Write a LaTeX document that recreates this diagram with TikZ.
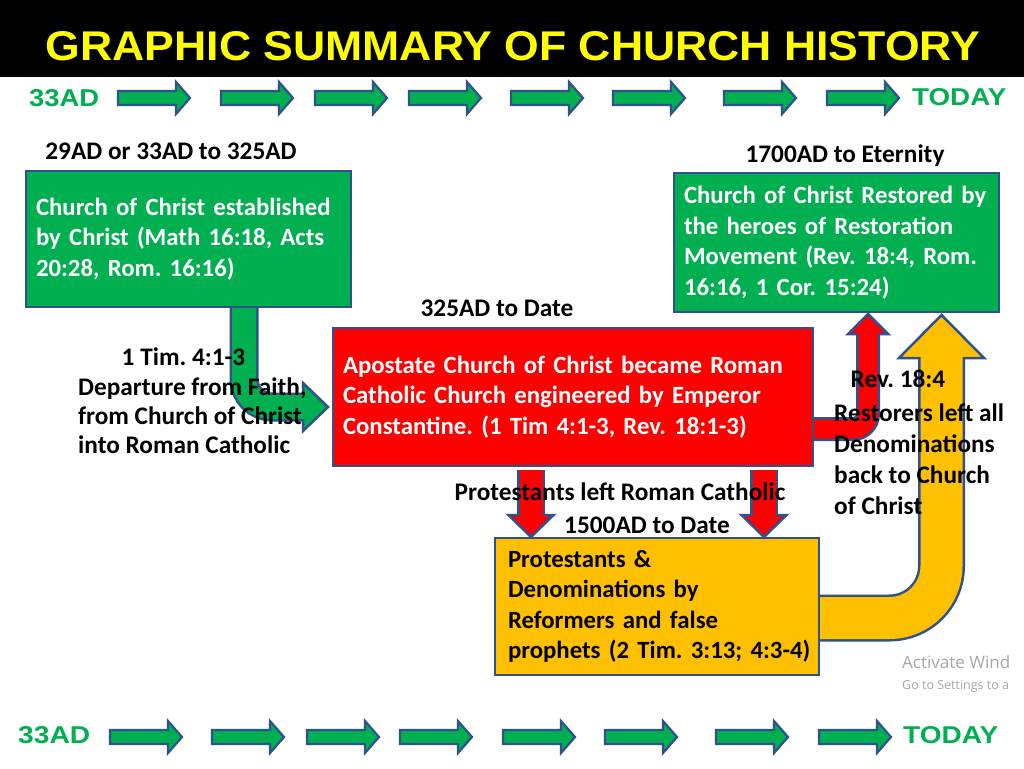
\documentclass[tikz,border=0pt]{standalone}
\usepackage{fontspec}
\setmainfont{Carlito}
\newfontfamily\titlefont{Liberation Sans}
\newfontfamily\wmfont{Open Sans}
\usetikzlibrary{calc}
\definecolor{cgreen}{HTML}{00B050}
\definecolor{cred}{HTML}{FF0000}
\definecolor{corange}{HTML}{FFC000}
\definecolor{cblue}{HTML}{2F528F}
\definecolor{cyellow}{HTML}{FFFF00}
\definecolor{wmgray}{HTML}{A6A6A6}
\frenchspacing
\hfuzz=50pt
\newcommand\tlarrow[2]{\draw[tlarr] (#1,#2-7) -- ++(58,0) -- ++(0,-9) -- ++(14,16) -- ++(-14,16) -- ++(0,-9) -- ++(-58,0) -- cycle;}
\begin{document}
\begin{tikzpicture}[x=1pt,y=-1pt,
  box/.style={draw=cblue, line width=2.5pt, align=left, inner xsep=10pt, inner ysep=0pt,
    font=\bfseries\fontsize{24.8}{30.5}\selectfont},
  lbl/.style={font=\bfseries\fontsize{25.3}{30.5}\selectfont, inner sep=0pt, text=black},
  tlarr/.style={fill=cgreen, draw=cblue, line width=2.2pt, line join=miter},
  tltext/.style={inner sep=0pt, text=cgreen, font=\titlefont\bfseries},
  head/.style={draw=cblue, line width=2.5pt, line join=miter},
]
\useasboundingbox (0,0) rectangle (1024,768);
\fill[white] (0,0) rectangle (1024,768);
% title bar
\fill[black] (0,0) rectangle (1024,77);
\node[inner sep=0pt, text=cyellow, font=\titlefont\bfseries] (title) at (513,46)
  {\resizebox{934pt}{29pt}{GRAPHIC SUMMARY OF CHURCH HISTORY}};

% timelines
\node[tltext, anchor=west] (t33) at (29,98) {\resizebox{70pt}{17pt}{33AD}};
\node[tltext, anchor=west] (ttoday) at (912,97) {\resizebox{94pt}{17pt}{TODAY}};
\foreach \x in {118,221,315,409,511,613,724,827} {\tlarrow{\x}{98}}
\node[tltext, anchor=west] (b33) at (18,735) {\resizebox{72pt}{17pt}{33AD}};
\node[tltext, anchor=west] (btoday) at (903,735) {\resizebox{95pt}{17pt}{TODAY}};
\foreach \x in {110,212,307,400,503,605,716,819} {\tlarrow{\x}{737}}

% box positions (coordinates used by the arrows)
\coordinate (Apos) at (188.5,239);
\coordinate (Bpos) at (836.5,242.5);
\coordinate (Cpos) at (573,397);
\coordinate (Dpos) at (657,606.5);

% green bent arrow A -> C
\draw[cblue, line width=29pt, rounded corners=28pt] (244,300) -- (244,407) -- (305,407);
\draw[head, fill=cgreen] (303,383) -- (328,407) -- (303,431) -- cycle;
\draw[cgreen, line width=24pt, rounded corners=28pt] (244,300) -- (244,407) -- (305,407);

% red down arrows C -> D
\foreach \x in {531,764} {
  \draw[cblue, line width=28pt] (\x,470) -- (\x,516);
  \draw[head, fill=cred] (\x-22.5,515) -- (\x,537) -- (\x+22.5,515) -- cycle;
  \draw[cred, line width=23pt] (\x,470) -- (\x,517);
}

% red bent arrow C -> B
\draw[cblue, line width=24pt, rounded corners=15pt] (810,429) -- (868,429) -- (868,334);
\draw[head, fill=cred] (848,334) -- (868,314) -- (888,334) -- cycle;
\draw[cred, line width=19pt, rounded corners=15pt] (810,429) -- (868,429) -- (868,332);

% orange bent arrow D -> B
\draw[cblue, line width=47pt, rounded corners=52pt] (815,618) -- (941.5,618) -- (941.5,359);
\draw[head, fill=corange] (899,358) -- (941.5,315) -- (984,358) -- cycle;
\draw[corange, line width=42pt, rounded corners=52pt] (815,618) -- (941.5,618) -- (941.5,356);

% boxes
\node[box, fill=cgreen, text=white, text width=305pt, minimum height=136pt] (A) at (Apos)
  {\mbox{Church of Christ established}\\\mbox{by Christ (Math 16:18, Acts}\\20:28, Rom. 16:16)};
\node[box, fill=cgreen, text=white, text width=305pt, minimum height=139pt] (B) at (Bpos)
  {\mbox{Church of Christ Restored by}\\the heroes of Restoration\\\mbox{Movement (Rev. 18:4, Rom.}\\16:16, 1 Cor. 15:24)};
\node[box, fill=cred, text=white, text width=460pt, minimum height=138pt] (C) at (Cpos)
  {\mbox{Apostate Church of Christ became Roman}\\\mbox{Catholic Church engineered by Emperor}\\\mbox{Constantine. (1 Tim 4:1-3, Rev. 18:1-3)}};
\node[box, fill=corange, text=black, text width=298pt, minimum height=137pt, inner xsep=13pt] (D) at (Dpos)
  {Protestants \&\\Denominations by\\Reformers and false\\\mbox{prophets (2 Tim. 3:13; 4:3-4)}};

% labels
\node[lbl, anchor=base] (la) at (171,159.5) {29AD or 33AD to 325AD};
\node[lbl, anchor=base] (lb) at (845,162.5) {1700AD to Eternity};
\node[lbl, anchor=base] (lc) at (497,316) {325AD to Date};
\node[lbl, anchor=base] (ld) at (647,533) {1500AD to Date};
\node[lbl, anchor=base] (lprot) at (620,500) {Protestants left Roman Catholic};
\node[lbl, anchor=base] (ltim) at (183.5,365) {1 Tim. 4:1-3};
\node[lbl, anchor=west, align=left, font=\bfseries\fontsize{25.3}{29}\selectfont] (ldep) at (78,416)
  {Departure from Faith,\\from Church of Christ\\into Roman Catholic};
\node[lbl, anchor=base] (lrev) at (898,387) {Rev. 18:4};
\node[lbl, anchor=west, align=left, font=\bfseries\fontsize{25.3}{31}\selectfont] (lrest) at (834,459.5)
  {Restorers left all\\Denominations\\back to Church\\of Christ};

% watermark
\node[inner sep=0pt, anchor=base west, text=wmgray, font=\wmfont\fontsize{17}{20}\selectfont] (wm1) at (902,668) {Activate Wind};
\node[inner sep=0pt, anchor=base west, text=wmgray, font=\wmfont\fontsize{12.5}{15}\selectfont] (wm2) at (902,689) {Go to Settings to a};
\end{tikzpicture}
\end{document}
